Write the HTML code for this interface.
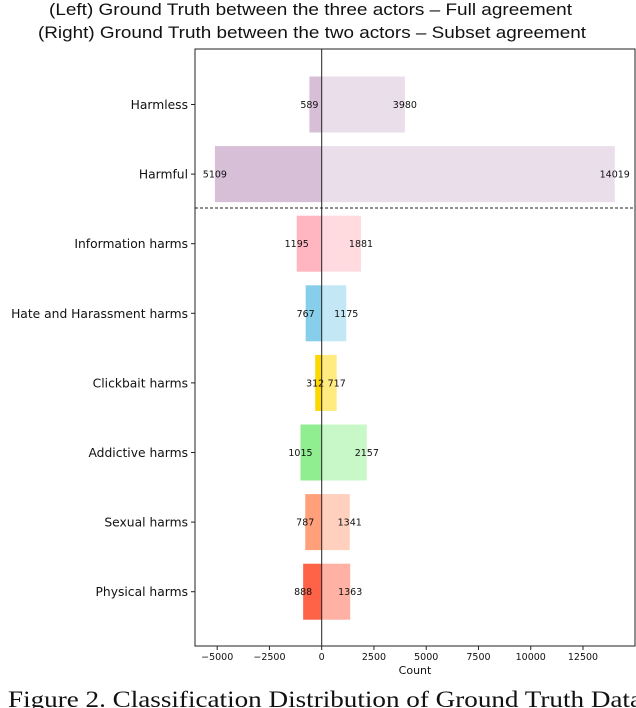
<!DOCTYPE html>
<html><head><meta charset="utf-8"><style>
body{margin:0;width:636px;height:708px;background:#fff;overflow:hidden;font-family:"Liberation Sans","DejaVu Sans",sans-serif}
svg{display:block}
</style></head><body>
<svg id="chart" width="636" height="708" xmlns="http://www.w3.org/2000/svg">
<text x="49" y="15" font-size="17" textLength="523" lengthAdjust="spacingAndGlyphs" font-family="Liberation Sans, sans-serif" fill="#111">(Left) Ground Truth between the three actors – Full agreement</text>
<text x="38" y="38" font-size="17" textLength="548" lengthAdjust="spacingAndGlyphs" font-family="Liberation Sans, sans-serif" fill="#111">(Right) Ground Truth between the two actors – Subset agreement</text>
<g id="plot"></g>
<text x="8" y="707" font-size="23" textLength="634" lengthAdjust="spacingAndGlyphs" font-family="Liberation Serif, serif" fill="#111">Figure 2. Classification Distribution of Ground Truth Data</text>
</svg>
<script>
const categories=["Harmless","Harmful","Information harms","Hate and Harassment harms","Clickbait harms","Addictive harms","Sexual harms","Physical harms"];
const leftValues=[589,5109,1195,767,312,1015,787,888];
const rightValues=[3980,14019,1881,1175,717,2157,1341,1363];
const tickValues=[-5000,-2500,0,2500,5000,7500,10000,12500];
const leftColors=["#d8bfd8","#d8bfd8","#ffb6c1","#87ceeb","#ffd700","#90ee90","#ffa07a","#ff6347"];
const rightColors=["#ebdeeb","#ebdeeb","#ffdbe0","#c3e7f5","#ffeb80","#c8f7c8","#ffd0bd","#ffb1a3"];
const NS="http://www.w3.org/2000/svg";
const g=document.getElementById('plot');
const L=195,R=635,T=49,B=646;
const x0=321.7,k=261.3/12500;
const X=v=>x0+v*k;
const rowY=i=>104.5+i*69.6;
const bh=56;
function el(t,a,txt){const e=document.createElementNS(NS,t);for(const n in a)e.setAttribute(n,a[n]);if(txt!==undefined)e.textContent=txt;g.appendChild(e);return e;}
categories.forEach((c,i)=>{
  const y=rowY(i);
  const lb=el('rect',{x:X(-leftValues[i]),y:y-bh/2,width:X(0)-X(-leftValues[i]),height:bh,fill:leftColors[i]});
  
  
  const rb=el('rect',{x:X(0),y:y-bh/2,width:X(rightValues[i])-X(0),height:bh,fill:rightColors[i]});
  
  
  const lt=el('text',{x:X(-leftValues[i]),y:y+3.5,'font-size':9.5,'text-anchor':'middle','font-family':'DejaVu Sans, sans-serif',fill:'#111'},String(leftValues[i]));
  
  
  const rt=el('text',{x:X(rightValues[i]),y:y+3.5,'font-size':9.5,'text-anchor':'middle','font-family':'DejaVu Sans, sans-serif',fill:'#111'},String(rightValues[i]));
  
  
  const tk=el('line',{x1:L-4,x2:L,y1:y,y2:y,stroke:'#222','stroke-width':1});
  
  
  const yl=el('text',{x:L-7,y:y+4.5,'font-size':12.3,'text-anchor':'end','font-family':'DejaVu Sans, sans-serif',fill:'#111'},c);
  
  
});
const zl=el('line',{x1:X(0),x2:X(0),y1:T,y2:B,stroke:'#222','stroke-width':1});


const dl=el('line',{x1:L,x2:R,y1:208,y2:208,stroke:'#222','stroke-width':1,'stroke-dasharray':'3,2'});


const fr=el('rect',{x:L,y:T,width:R-L,height:B-T,fill:'none',stroke:'#222','stroke-width':1});


tickValues.forEach(v=>{
  const t=el('line',{x1:X(v),x2:X(v),y1:B,y2:B+4,stroke:'#222'});
  
  
  const s=el('text',{x:X(v),y:B+14,'font-size':9.5,'text-anchor':'middle','font-family':'DejaVu Sans, sans-serif',fill:'#111'},v<0?'\u2212'+Math.abs(v):String(v));
  
  
});
const xt=el('text',{x:415,y:B+28,'font-size':11,'text-anchor':'middle','font-family':'DejaVu Sans, sans-serif',fill:'#111'},'Count');


</script>
</body></html>
